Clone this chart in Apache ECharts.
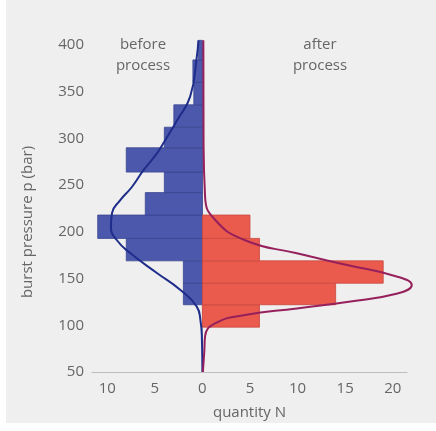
<!DOCTYPE html>
<html>
<head>
<meta charset="utf-8">
<script src="https://cdn.jsdelivr.net/npm/echarts@6/dist/echarts.min.js"></script>
<style>
html,body{margin:0;padding:0;background:#ffffff;}
#bg{position:absolute;left:6px;top:0;width:430px;height:423px;background:#efefef;}
#chart{position:absolute;left:0;top:0;width:436px;height:431px;}
</style>
</head>
<body>
<div id="bg"></div>
<div id="chart"></div>
<script>
// Bin edges of burst pressure (bar), lowest to highest
const binEdges = [98, 122, 145, 169, 193, 218, 242, 264, 290, 312, 336, 360, 384, 405];
// Quantity per bin (same order as bins, bottom to top)
const beforeCounts = [0, 2, 2, 8, 11, 6, 4, 8, 4, 3, 0.9, 1, 0.4];
const afterCounts  = [6, 14, 19, 6, 5, 0, 0, 0, 0, 0, 0, 0, 0];
// Fitted distribution curves: [quantity, pressure]
const beforeCurve = [[0, 50], [-0.05, 85], [-0.2, 105], [-0.59, 120], [-2.34, 138], [-4.78, 156], [-7.55, 177],
  [-8.98, 191], [-9.61, 205], [-9.5, 220], [-8.63, 234], [-7.41, 248], [-6.19, 266], [-4.78, 284],
  [-3.91, 298], [-2.62, 320], [-1.28, 345], [-0.59, 387], [-0.42, 405]];
const afterCurve = [[0.05, 50], [0.2, 72], [0.28, 88], [1.33, 102], [4.48, 111], [9.93, 118], [15.2, 125],
  [20.5, 134], [22.0, 143], [20.5, 152], [15.2, 164.5], [9.93, 177], [4.48, 191], [1.33, 213],
  [0.28, 238], [0.12, 300], [0.1, 405]];
const xTickValues = [-10, -5, 0, 5, 10, 15, 20];

const FONT = 'Open Sans';
const TXT = '#666666';

// axis extents
const X_MIN = -11.6, X_MAX = 21.5, Y_MIN = 50, Y_MAX = 400;
const G_LEFT = 92, G_RIGHT = 29, G_TOP = 45, G_BOTTOM = 59, W = 436;
// the curves overflow the plot on the right: draw them on an invisible twin grid with the same scale
const plotW = W - G_LEFT - G_RIGHT;
const X_MAX_WIDE = X_MIN + (W - G_LEFT) * (X_MAX - X_MIN) / plotW;

function binData(counts, sign) {
  const out = [];
  for (let i = 0; i < counts.length; i++) {
    if (counts[i] > 0) out.push([binEdges[i], binEdges[i + 1], sign * counts[i]]);
  }
  return out;
}

function renderBar(params, api) {
  const lo = api.value(0), hi = api.value(1), n = api.value(2);
  const p0 = api.coord([0, lo]);
  const p1 = api.coord([n, hi]);
  const x = Math.min(p0[0], p1[0]);
  const y = Math.min(p0[1], p1[1]);
  return {
    type: 'rect',
    shape: { x: x, y: y, width: Math.abs(p1[0] - p0[0]), height: Math.abs(p1[1] - p0[1]) },
    style: api.style()
  };
}

const chart = echarts.init(document.getElementById('chart'));
chart.setOption({
  backgroundColor: 'transparent',
  animation: false,
  grid: [
    { left: G_LEFT, right: G_RIGHT, top: G_TOP, bottom: G_BOTTOM, containLabel: false },
    { left: G_LEFT, right: 0, top: G_TOP, bottom: G_BOTTOM, containLabel: false }
  ],
  xAxis: [{
    type: 'value', min: X_MIN, max: X_MAX, gridIndex: 0,
    splitNumber: 6,
    name: 'quantity N', nameLocation: 'middle', nameGap: 33,
    nameTextStyle: { color: TXT, fontSize: 15, fontFamily: FONT },
    axisLine: { show: true, lineStyle: { color: '#bdbdbd', width: 1 } },
    axisTick: { show: false },
    splitLine: { show: false },
    axisLabel: {
      color: TXT, fontSize: 15, fontFamily: FONT, margin: 9,
      showMinLabel: false, showMaxLabel: false,
      formatter: function (v) { return xTickValues.indexOf(v) >= 0 ? String(Math.abs(v)) : ''; }
    }
  }, {
    type: 'value', min: X_MIN, max: X_MAX_WIDE, gridIndex: 1, show: false
  }],
  yAxis: [{
    type: 'value', min: Y_MIN, max: Y_MAX, interval: 50, gridIndex: 0,
    axisLine: { show: true, lineStyle: { color: '#bdbdbd', width: 1 } },
    axisTick: { show: false },
    splitLine: { show: false },
    axisLabel: { color: TXT, fontSize: 15, fontFamily: FONT, margin: 8 }
  }, {
    type: 'value', min: Y_MIN, max: Y_MAX, interval: 50, gridIndex: 1, show: false
  }],
  graphic: [
    { type: 'text', rotation: Math.PI / 2, x: 28, y: 222,
      style: { text: 'burst pressure p (bar)', fill: TXT, font: '15px "Open Sans"', align: 'center', verticalAlign: 'middle' } },
    { type: 'text', x: 143, y: 45, style: { text: 'before', fill: TXT, font: '15px "Open Sans"', align: 'center', verticalAlign: 'middle' } },
    { type: 'text', x: 143, y: 66, style: { text: 'process', fill: TXT, font: '15px "Open Sans"', align: 'center', verticalAlign: 'middle' } },
    { type: 'text', x: 320, y: 45, style: { text: 'after', fill: TXT, font: '15px "Open Sans"', align: 'center', verticalAlign: 'middle' } },
    { type: 'text', x: 320, y: 66, style: { text: 'process', fill: TXT, font: '15px "Open Sans"', align: 'center', verticalAlign: 'middle' } }
  ],
  series: [
    {
      type: 'custom', name: 'before', renderItem: renderBar, clip: false,
      xAxisIndex: 0, yAxisIndex: 0,
      encode: { x: 2, y: [0, 1] },
      itemStyle: { color: '#4c58ac', borderColor: '#38448f', borderWidth: 0.8 },
      data: binData(beforeCounts, -1)
    },
    {
      type: 'custom', name: 'after', renderItem: renderBar, clip: false,
      xAxisIndex: 0, yAxisIndex: 0,
      encode: { x: 2, y: [0, 1] },
      itemStyle: { color: '#ea5a4d', borderColor: '#c9473d', borderWidth: 0.8 },
      data: binData(afterCounts, 1)
    },
    {
      type: 'line', name: 'before fit', data: beforeCurve, smooth: 0.5, showSymbol: false, clip: false,
      xAxisIndex: 1, yAxisIndex: 1,
      lineStyle: { color: '#1f2d8a', width: 2 }, z: 5
    },
    {
      type: 'line', name: 'after fit', data: afterCurve, smooth: 0.5, showSymbol: false, clip: false,
      xAxisIndex: 1, yAxisIndex: 1,
      lineStyle: { color: '#96205c', width: 2 }, z: 5
    }
  ]
});
</script>
</body>
</html>
